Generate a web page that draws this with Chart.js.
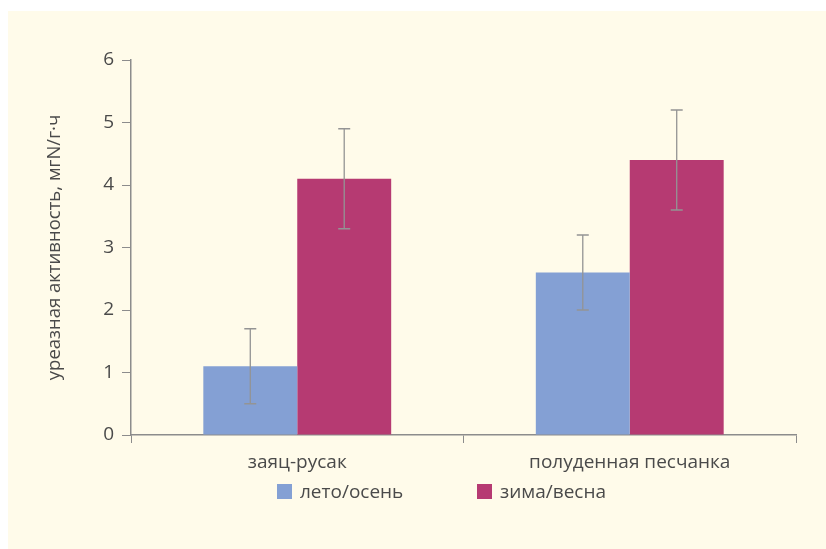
<!DOCTYPE html>
<html>
<head>
<meta charset="utf-8">
<script src="https://cdn.jsdelivr.net/npm/chart.js"></script>
<style>
  body { margin: 0; background: #fff; width: 826px; height: 549px; overflow: hidden; }
  #panel { position: absolute; left: 8px; top: 11px; width: 818px; height: 538px; background: #fffbea; }
  #wrap { position: absolute; left: 0; top: 0; width: 818px; height: 470px; }
  #legend { position: absolute; left: 0; top: 468px; width: 818px; height: 24px;
            font-family: "Open Sans", sans-serif; font-size: 19px; color: #4a4a4a; }
  .item { position: absolute; top: 0; display: flex; align-items: center; height: 24px; }
  .box { width: 15px; height: 15px; margin-right: 8px; }
</style>
</head>
<body>
<div id="panel">
  <div id="wrap"><canvas id="chart"></canvas></div>
  <div id="legend"></div>
</div>
<script>
const categories = ['заяц-русак', 'полуденная песчанка'];
const seriesNames = ['лето/осень', 'зима/весна'];
const summerAutumn = [1.1, 2.6];
const summerAutumnErr = [0.6, 0.6];
const winterSpring = [4.1, 4.4];
const winterSpringErr = [0.8, 0.8];
const yTicks = [0, 1, 2, 3, 4, 5, 6];
const colors = ['#84a0d4', '#b63a72'];

const axisColor = '#8c8c8c';
const textColor = '#4a4a4a';
const fontFamily = '"Open Sans", sans-serif';

// error bars drawn from the dataset's own scale
const errorBars = {
    id: 'errorBars',
    afterDatasetsDraw(chart) {
        const ctx = chart.ctx;
        const yScale = chart.scales.y;
        const errs = [summerAutumnErr, winterSpringErr];
        ctx.save();
        ctx.strokeStyle = '#949494';
        ctx.lineWidth = 1.3;
        chart.data.datasets.forEach((ds, di) => {
            const meta = chart.getDatasetMeta(di);
            meta.data.forEach((bar, i) => {
                const v = ds.data[i];
                const e = errs[di][i];
                const top = yScale.getPixelForValue(v + e);
                const bottom = yScale.getPixelForValue(v - e);
                ctx.beginPath();
                ctx.moveTo(bar.x, top);
                ctx.lineTo(bar.x, bottom);
                ctx.moveTo(bar.x - 6, top);
                ctx.lineTo(bar.x + 6, top);
                ctx.moveTo(bar.x - 6, bottom);
                ctx.lineTo(bar.x + 6, bottom);
                ctx.stroke();
            });
        });
        ctx.restore();
    }
};

const ctx = document.getElementById('chart').getContext('2d');
const chart = new Chart(ctx, {
    type: 'bar',
    data: {
        labels: categories,
        datasets: [
            { label: seriesNames[0], data: summerAutumn, backgroundColor: colors[0] },
            { label: seriesNames[1], data: winterSpring, backgroundColor: colors[1] }
        ]
    },
    options: {
        responsive: true,
        maintainAspectRatio: false,
        animation: false,
        categoryPercentage: 0.565,
        barPercentage: 1.0,
        layout: { padding: { left: 0, top: 49, right: 30, bottom: 0 } },
        plugins: {
            legend: { display: false },
            tooltip: { enabled: false }
        },
        scales: {
            x: {
                grid: { offset: true, drawOnChartArea: false, tickLength: 8, color: axisColor },
                border: { color: axisColor, width: 1.5 },
                ticks: { color: textColor, font: { family: fontFamily, size: 19 }, padding: 8 },
                afterFit: (scale) => { scale.height = 46; }
            },
            y: {
                min: 0,
                max: 6,
                afterBuildTicks: (scale) => { scale.ticks = yTicks.map(v => ({ value: v })); },
                grid: { drawOnChartArea: false, tickLength: 9, color: axisColor },
                border: { color: axisColor, width: 1.5 },
                ticks: { color: textColor, font: { family: fontFamily, size: 19 }, padding: 8 },
                title: {
                    display: true,
                    text: 'уреазная активность, мгN/г·ч',
                    color: textColor,
                    font: { family: fontFamily, size: 18.5 },
                    padding: { top: 36, bottom: 0 }
                },
                afterFit: (scale) => { scale.width = 123; }
            }
        }
    },
    plugins: [errorBars]
});

// legend
const legend = document.getElementById('legend');
const legendX = [269, 469];
seriesNames.forEach((name, i) => {
    const item = document.createElement('div');
    item.className = 'item';
    item.style.left = legendX[i] + 'px';
    item.innerHTML = '<span class="box" style="background:' + colors[i] + '"></span><span>' + name + '</span>';
    legend.appendChild(item);
});
</script>
</body>
</html>
